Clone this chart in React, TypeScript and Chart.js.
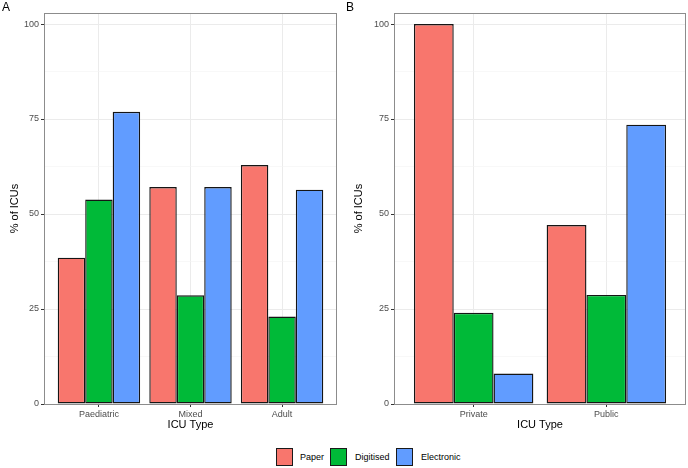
import React, { useEffect, useRef } from "react";
import { Chart, registerables } from "chart.js";

Chart.register(...registerables);

const seriesNames = ["Paper", "Digitised", "Electronic"];
const seriesColors = ["#F8766D", "#00BA38", "#619CFF"];

const categoriesA = ["Paediatric", "Mixed", "Adult"];
const paperA = [38.5, 57.1, 62.9];
const digitisedA = [53.8, 28.6, 23.0];
const electronicA = [76.9, 57.1, 56.4];

const categoriesB = ["Private", "Public"];
const paperB = [100, 47.1];
const digitisedB = [24, 28.7];
const electronicB = [8, 73.5];

const yTicks = [0, 12.5, 25, 37.5, 50, 62.5, 75, 87.5, 100];
const yMax = 102.9;

const FONT = "'Liberation Sans', Arial, Helvetica, sans-serif";

function makeConfig(categories: string[], series: number[][], tag: string, padLeft: number, yWidth: number, padRight: number) {
  const n = categories.length;
  const panelPlugin = {
    id: "panel" + tag,
    afterDraw(chart: any) {
      const { ctx, chartArea } = chart;
      ctx.save();
      ctx.strokeStyle = "#8c8c8c";
      ctx.lineWidth = 1;
      ctx.strokeRect(chartArea.left + 0.5, chartArea.top + 0.5, chartArea.right - chartArea.left - 1, chartArea.bottom - chartArea.top);
      ctx.fillStyle = "#000";
      ctx.font = "12px " + FONT;
      ctx.textBaseline = "top";
      ctx.textAlign = "left";
      ctx.fillText(tag, 2, 2);
      ctx.restore();
    },
  };
  return {
    type: "bar",
    data: {
      datasets: series.map((vals, i) => ({
        label: seriesNames[i],
        data: vals.map((v, j) => ({ x: j + 1, y: v })),
        backgroundColor: seriesColors[i],
        borderColor: "#151515",
        borderWidth: 1.4,
        borderSkipped: false,
        categoryPercentage: 0.9,
        barPercentage: 1.0,
      })),
    },
    options: {
      animation: false,
      responsive: false,
      maintainAspectRatio: false,
      layout: { padding: { left: padLeft, right: padRight, top: 13, bottom: 8 } },
      plugins: { legend: { display: false }, tooltip: { enabled: false } },
      scales: {
        x: {
          type: "linear",
          offset: false,
          min: 0.4,
          max: n + 0.6,
          afterBuildTicks: (axis: any) => {
            axis.ticks = categories.map((_, i) => ({ value: i + 1 }));
          },
          afterFit: (axis: any) => {
            axis.height = 36 - 8;
          },
          ticks: {
            autoSkip: false,
            maxRotation: 0,
            padding: 2,
            color: "#4d4d4d",
            font: { size: 9, family: FONT },
            callback: (v: any) => categories[Math.round(v) - 1] ?? "",
          },
          grid: { offset: false, color: "#ebebeb", lineWidth: 1, tickLength: 3, tickColor: "#333333", drawTicks: true },
          border: { display: false },
          title: { display: true, text: "ICU Type", color: "#000", font: { size: 11, family: FONT }, padding: { top: 0, bottom: 0 } },
        },
        y: {
          min: 0,
          max: yMax,
          afterBuildTicks: (axis: any) => {
            axis.ticks = yTicks.map((v) => ({ value: v }));
          },
          afterFit: (axis: any) => {
            axis.width = yWidth;
          },
          ticks: {
            padding: 2,
            color: "#4d4d4d",
            font: { size: 9, family: FONT },
            callback: (v: any) => (v % 25 === 0 ? String(v) : ""),
          },
          grid: {
            color: (c: any) => (c.tick && c.tick.value % 25 === 0 ? "#ebebeb" : "#f3f3f3"),
            lineWidth: (c: any) => (c.tick && c.tick.value % 25 === 0 ? 1 : 0.6),
            tickLength: 3,
            tickColor: (c: any) => (c.tick && c.tick.value % 25 === 0 ? "#333333" : "rgba(0,0,0,0)"),
          },
          border: { display: false },
          title: { display: true, text: "% of ICUs", color: "#000", font: { size: 11, family: FONT }, padding: { top: 8, bottom: 0 } },
        },
      },
    },
    plugins: [panelPlugin],
  } as any;
}

function Panel(props: { categories: string[]; series: number[][]; tag: string; padLeft: number; yWidth: number; padRight: number; left: number }) {
  const ref = useRef<HTMLCanvasElement | null>(null);
  useEffect(() => {
    if (!ref.current) return;
    const chart = new Chart(ref.current, makeConfig(props.categories, props.series, props.tag, props.padLeft, props.yWidth, props.padRight));
    return () => chart.destroy();
  }, []);
  return (
    <canvas
      ref={ref}
      width={344}
      height={440}
      style={{ position: "absolute", left: props.left, top: 0, width: 344, height: 440 }}
    />
  );
}

export default function App() {
  const legendItems = [
    { left: 276, textLeft: 300 },
    { left: 330, textLeft: 355 },
    { left: 396, textLeft: 421 },
  ];
  return (
    <div style={{ position: "fixed", left: 0, top: 0, width: 688, height: 468, background: "#fff", fontFamily: FONT }}>
      <Panel categories={categoriesA} series={[paperA, digitisedA, electronicA]} tag="A" padLeft={0} yWidth={44} padRight={7} left={0} />
      <Panel categories={categoriesB} series={[paperB, digitisedB, electronicB]} tag="B" padLeft={0} yWidth={50} padRight={2} left={344} />
      {seriesNames.map((name, i) => (
        <React.Fragment key={name}>
          <div
            style={{
              position: "absolute",
              left: legendItems[i].left,
              top: 448,
              width: 15,
              height: 16,
              background: seriesColors[i],
              border: "1px solid #1a1a1a",
            }}
          />
          <div
            style={{
              position: "absolute",
              left: legendItems[i].textLeft,
              top: 450,
              fontSize: 9,
              lineHeight: "14px",
              color: "#000",
              whiteSpace: "nowrap",
            }}
          >
            {name}
          </div>
        </React.Fragment>
      ))}
    </div>
  );
}
